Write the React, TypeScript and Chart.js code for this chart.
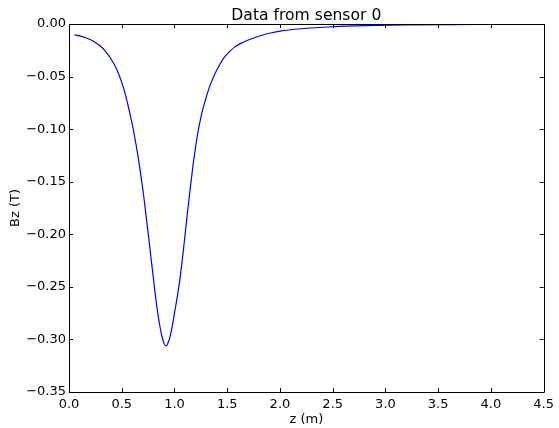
import React, { useEffect, useRef } from "react";
import { Chart, registerables } from "chart.js";

Chart.register(...registerables);

const TITLE = "Data from sensor 0";
const X_LABEL = "z (m)";
const Y_LABEL = "Bz (T)";

const zValues = [
  0.05, 0.1, 0.15, 0.2, 0.25, 0.3, 0.35, 0.4, 0.45, 0.5, 0.53, 0.56, 0.585, 0.61, 0.635,
  0.66, 0.687, 0.71, 0.735, 0.76, 0.782, 0.81, 0.835, 0.86, 0.88, 0.9, 0.915, 0.925,
  0.94, 0.955, 0.971, 0.985, 1.0, 1.033, 1.06, 1.09, 1.118, 1.145, 1.175, 1.2, 1.222,
  1.25, 1.27, 1.3, 1.333, 1.38, 1.427, 1.47, 1.522, 1.57, 1.633, 1.7, 1.806, 1.9, 2.0,
  2.2, 2.5, 2.8, 3.2, 3.6, 4.0, 4.22,
];
const bzValues = [
  -0.0102, -0.0113, -0.0128, -0.0148, -0.0175, -0.0212, -0.0265, -0.0335, -0.0425,
  -0.0555, -0.0655, -0.0775, -0.0885, -0.1005, -0.1145, -0.1295, -0.148, -0.165, -0.186,
  -0.207, -0.2265, -0.2505, -0.2705, -0.2865, -0.2965, -0.3035, -0.3058, -0.3058,
  -0.303, -0.2985, -0.2915, -0.284, -0.275, -0.2555, -0.236, -0.21, -0.184, -0.16,
  -0.135, -0.117, -0.103, -0.089, -0.0805, -0.07, -0.0596, -0.048, -0.039, -0.032,
  -0.0263, -0.022, -0.0182, -0.0152, -0.0114, -0.0088, -0.0068, -0.0045, -0.0026,
  -0.0016, -0.0009, -0.0005, -0.0003, -0.0002,
];

const X_MIN = 0;
const X_MAX = 4.5;
const X_STEP = 0.5;
const Y_MIN = -0.35;
const Y_MAX = 0;
const Y_STEP = 0.05;

const FONT = "'DejaVu Sans', sans-serif";

const framePlugin = {
  id: "frame",
  afterDraw(chart: any) {
    const { ctx, chartArea } = chart;
    const { left, right, top, bottom } = chartArea;
    const xs = chart.scales.x;
    const ys = chart.scales.y;
    ctx.save();
    ctx.strokeStyle = "#000";
    ctx.lineWidth = 1;
    ctx.beginPath();
    ctx.rect(Math.round(left) + 0.5, Math.round(top) + 0.5, Math.round(right - left), Math.round(bottom - top));
    ctx.stroke();
    const tl = 4;
    ctx.beginPath();
    xs.ticks.forEach((t: any) => {
      const px = Math.round(xs.getPixelForValue(t.value)) + 0.5;
      ctx.moveTo(px, bottom);
      ctx.lineTo(px, bottom - tl);
      ctx.moveTo(px, top);
      ctx.lineTo(px, top + tl);
    });
    ys.ticks.forEach((t: any) => {
      const py = Math.round(ys.getPixelForValue(t.value)) + 0.5;
      ctx.moveTo(left, py);
      ctx.lineTo(left + tl, py);
      ctx.moveTo(right, py);
      ctx.lineTo(right - tl, py);
    });
    ctx.stroke();

    ctx.fillStyle = "#000";
    ctx.textAlign = "center";
    ctx.textBaseline = "alphabetic";
    ctx.font = `15.6px ${FONT}`;
    ctx.fillText(TITLE, (left + right) / 2, 20);
    ctx.font = `13px ${FONT}`;
    ctx.fillText(X_LABEL, (left + right) / 2, 423);
    ctx.translate(19, (top + bottom) / 2);
    ctx.rotate(-Math.PI / 2);
    ctx.fillText(Y_LABEL, 0, 0);
    ctx.restore();
  },
};

export default function App() {
  const ref = useRef<HTMLCanvasElement>(null);
  useEffect(() => {
    document.body.style.margin = "0";
    const canvas = ref.current!;
    const data = zValues.map((z, i) => ({ x: z, y: bzValues[i] }));
    const chart = new Chart(canvas, {
      type: "line",
      data: {
        datasets: [
          {
            data,
            borderColor: "#0000ff",
            borderWidth: 1.2,
            pointRadius: 0,
            fill: false,
            cubicInterpolationMode: "monotone",
          },
        ],
      },
      options: {
        animation: false,
        responsive: false,
        devicePixelRatio: 1,
        layout: { padding: { top: 24, right: 14, left: 0, bottom: 0 } },
        plugins: { legend: { display: false }, tooltip: { enabled: false }, title: { display: false } },
        scales: {
          x: {
            type: "linear",
            min: X_MIN,
            max: X_MAX,
            grid: { display: false, drawTicks: false },
            border: { display: false },
            ticks: {
              stepSize: X_STEP,
              padding: 5,
              color: "#000",
              font: { family: FONT, size: 13 },
              maxRotation: 0,
              callback: (v: any) => Number(v).toFixed(1),
            },
            afterFit: (s: any) => {
              s.height = 36;
            },
          },
          y: {
            type: "linear",
            min: Y_MIN,
            max: Y_MAX,
            grid: { display: false, drawTicks: false },
            border: { display: false },
            ticks: {
              stepSize: Y_STEP,
              padding: 3,
              color: "#000",
              font: { family: FONT, size: 13 },
              callback: (v: any) => Number(v).toFixed(2).replace("-", "\u2212"),
            },
            afterFit: (s: any) => {
              s.width = 69;
            },
          },
        },
      },
      plugins: [framePlugin],
    } as any);
    return () => chart.destroy();
  }, []);
  return (
    <div style={{ width: 559, height: 428 }}>
      <canvas ref={ref} width={559} height={428} style={{ display: "block" }} />
    </div>
  );
}
